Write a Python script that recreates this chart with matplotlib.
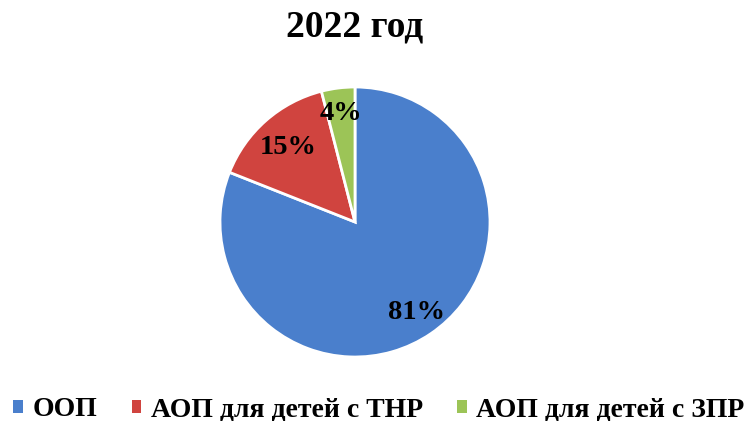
import matplotlib
matplotlib.use("Agg")
import matplotlib.pyplot as plt
from matplotlib.patches import Patch

title = "2022 год"
categories = ["ООП", "АОП для детей с ТНР", "АОП для детей с ЗПР"]
values = [81, 15, 4]
colors = ["#4a7fcc", "#d0443f", "#9cc457"]

plt.rcParams['font.family'] = ['Liberation Serif', 'DejaVu Serif']
plt.rcParams['font.weight'] = 'bold'

W, H = 751, 421
fig = plt.figure(figsize=(W / 100, H / 100), dpi=100)
cx, cy, r = 355, 222, 135
ax = fig.add_axes([(cx - r) / W, (H - cy - r) / H, 2 * r / W, 2 * r / H])

wedges, texts, autotexts = ax.pie(
    values, colors=colors, startangle=90, counterclock=False,
    autopct=lambda p: f"{p:.0f}%", pctdistance=0.81,
    wedgeprops=dict(edgecolor="white", linewidth=2.0),
    textprops=dict(fontsize=20.5, fontweight='bold', color='black'))
# nudge the middle label slightly inward as in reference
x, y = autotexts[1].get_position()
autotexts[1].set_position((x * 0.93, y * 0.91))
ax.set_xlim(-1, 1)
ax.set_ylim(-1, 1)
ax.set_aspect('equal')

fig.text(cx / W, 1 - 27 / H, title, ha='center', va='center',
         fontsize=27, fontweight='bold')

handles = [Patch(facecolor=c, edgecolor='none') for c in colors]
leg = fig.legend(handles, categories, loc='center', bbox_to_anchor=(379 / W, 1 - 410 / H),
                 ncol=3, frameon=False, fontsize=20, handlelength=0.33, handleheight=0.33,
                 handletextpad=0.35, columnspacing=1.25, borderaxespad=0, borderpad=0)
for t in leg.get_texts():
    t.set_fontweight('bold')

fig.savefig("out.png", dpi=100)
